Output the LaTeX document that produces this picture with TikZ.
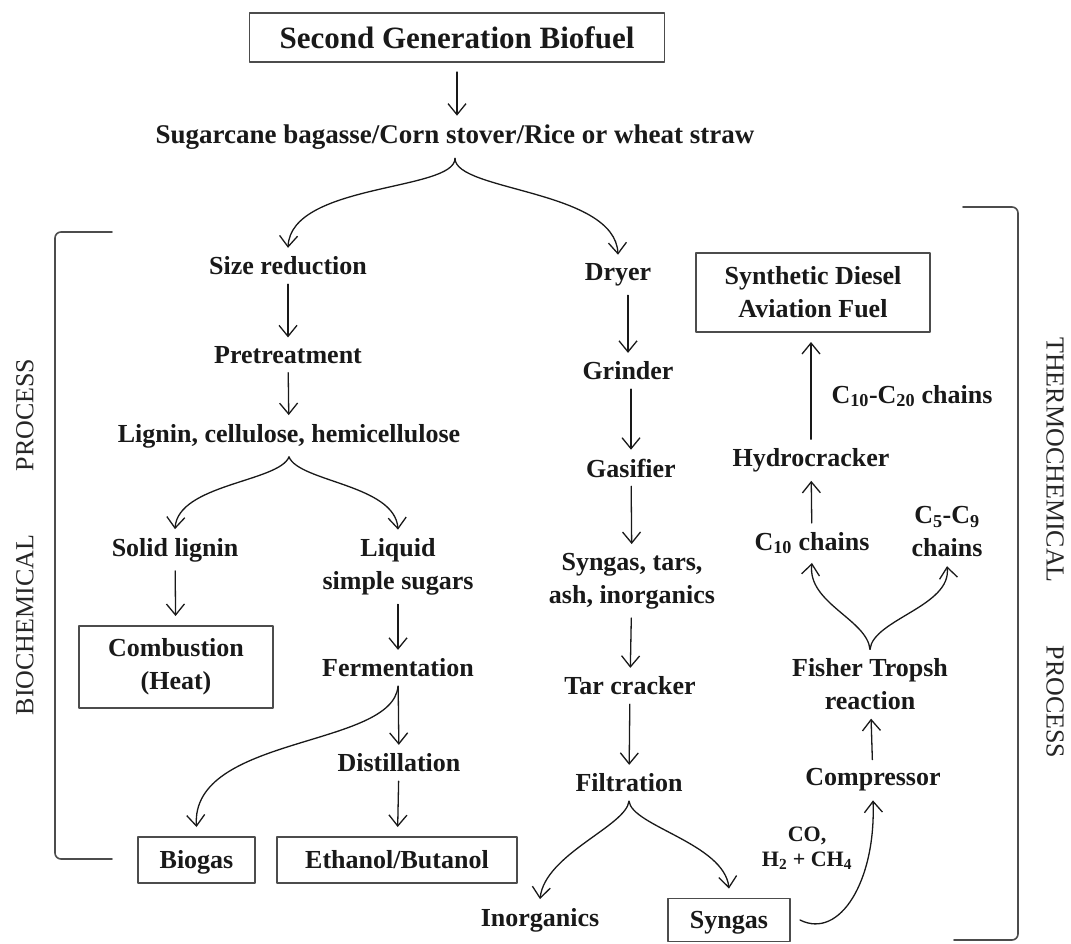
\documentclass[tikz,border=0pt]{standalone}
\usepackage{fontspec}
\setmainfont{Liberation Serif}
\usetikzlibrary{arrows.meta}

\tikzset{
  flow/.style={draw=black!90,line width=1.3pt,-{Straight Barb[length=11pt,width=18pt]}},
  lbl/.style={font=\bfseries\fontsize{26}{33}\selectfont,text=black!90,inner sep=1pt,outer sep=8pt,align=center},
  outbox/.style={lbl,draw=black!70,line width=1.3pt,outer sep=10pt},
  oneline/.style={text height=23pt,text depth=6pt},
  side/.style={font=\fontsize{26}{30}\selectfont,text=black!85,inner sep=0pt},
  brk/.style={draw=black!70,line width=1.6pt,rounded corners=6pt}
}

\begin{document}
\begin{tikzpicture}[x=1pt,y=-1pt,line cap=round,line join=round]
\path[fill=white,use as bounding box] (0,0) rectangle (1071,943);

% feedstock
\node[outbox,minimum width=415pt,minimum height=49pt,font=\bfseries\fontsize{31}{36}\selectfont] (title) at (457,37.5) {Second Generation Biofuel};
\node[lbl,font=\bfseries\fontsize{27}{33}\selectfont] (feed) at (455,137) {Sugarcane bagasse/Corn stover/Rice or wheat straw};

% biochemical route
\node[lbl] (size) at (288,266) {Size reduction};
\node[lbl] (pre) at (288,355) {Pretreatment};
\node[lbl] (lig) at (289,436) {Lignin, cellulose, hemicellulose};
\node[lbl] (solid) at (175,550) {Solid lignin};
\node[lbl] (liq) at (398,567) {Liquid\\simple sugars};
\node[outbox,minimum width=194pt,minimum height=82pt] (comb) at (176,667) {Combustion\\(Heat)};
\node[lbl] (ferm) at (398,668) {Fermentation};
\node[lbl] (dist) at (399,763) {Distillation};
\node[outbox,oneline,minimum width=117pt,minimum height=46pt] (biogas) at (196.5,860) {Biogas};
\node[outbox,oneline,minimum width=240pt,minimum height=46pt] (ethol) at (397,860) {Ethanol/Butanol};

% thermochemical route
\node[lbl] (dryer) at (618,275) {Dryer};
\node[lbl] (grind) at (628,371) {Grinder};
\node[lbl] (gasif) at (631,468) {Gasifier};
\node[lbl] (tars) at (632,581) {Syngas, tars,\\ash, inorganics};
\node[lbl] (tarcr) at (630,686) {Tar cracker};
\node[lbl] (filt) at (629,783) {Filtration};
\node[lbl] (inorg) at (540,920) {Inorganics};
\node[outbox,oneline,minimum width=122pt,minimum height=43pt] (syngas) at (729,920) {Syngas};
\node[lbl,font=\bfseries\fontsize{22}{25}\selectfont] (gasmix) at (807,848) {CO,\\H\textsubscript{2} + CH\textsubscript{4}};
\node[lbl] (compr) at (873,780) {Compressor};
\node[lbl] (fisher) at (870,684) {Fisher Tropsh\\reaction};
\node[lbl] (c10) at (812,543) {C\textsubscript{10} chains};
\node[lbl] (c59) at (947,532) {C\textsubscript{5}-C\textsubscript{9}\\chains};
\node[lbl] (hydro) at (811,460) {Hydrocracker};
\node[lbl] (c1020) at (912,396) {C\textsubscript{10}-C\textsubscript{20} chains};
\node[outbox,minimum width=234pt,minimum height=79pt] (diesel) at (813,292.5) {Synthetic Diesel\\Aviation Fuel};

% side brackets and labels
\draw[brk] (112,232) -- (55,232) -- (55,859) -- (112,859);
\draw[brk] (963,207) -- (1018,207) -- (1018,940) -- (954,940);
\node[side,rotate=90] (bioa) at (25,625) {BIOCHEMICAL};
\node[side,rotate=90] (biob) at (25,415) {PROCESS};
\node[side,rotate=-90] (thera) at (1055,460) {THERMOCHEMICAL};
\node[side,rotate=-90] (therb) at (1055,702) {PROCESS};

% connectors
\draw[flow] (title.south) -- (title.south |- feed.north);
\draw[flow] (feed.south) .. controls +(0,33) and +(3,-65) .. (size.north);
\draw[flow] (feed.south) .. controls +(0,33) and +(-3,-65) .. (dryer.north);
\draw[flow] (size) -- (pre);
\draw[flow] (pre) -- (lig);
\draw[flow] (lig.south) .. controls +(-10,25) and +(3,-45) .. (solid.north);
\draw[flow] (lig.south) .. controls +(10,25) and +(-3,-45) .. (liq.north);
\draw[flow] (solid) -- (comb);
\draw[flow] (liq) -- (ferm);
\draw[flow] (ferm) -- (dist);
\draw[flow] (ferm.south) .. controls +(-5,62) and +(-6,-92) .. (biogas.north);
\draw[flow] (dist) -- (ethol);
\draw[flow] (dryer.south -| grind) -- (grind);
\draw[flow] (grind.south -| gasif) -- (gasif);
\draw[flow] (gasif) -- (tars);
\draw[flow] (tars) -- (tarcr);
\draw[flow] (tarcr) -- (filt);
\draw[flow] (filt.south) .. controls +(-3,25) and +(5,-45) .. (inorg.north);
\draw[flow] (filt.south) .. controls +(3,25) and +(-5,-45) .. (syngas.north);
\draw[flow] (syngas.east) .. controls +(40,20) and +(3,80) .. (compr.south);
\draw[flow] (compr) -- (fisher);
\draw[flow] (fisher.north) .. controls +(-3,-30) and +(-5,40) .. (c10.south);
\draw[flow] (fisher.north) .. controls +(3,-30) and +(5,40) .. (c59.south);
\draw[flow] (c10) -- (hydro);
\draw[flow] (hydro.north) -- (hydro.north |- diesel.south);
\end{tikzpicture}
\end{document}
